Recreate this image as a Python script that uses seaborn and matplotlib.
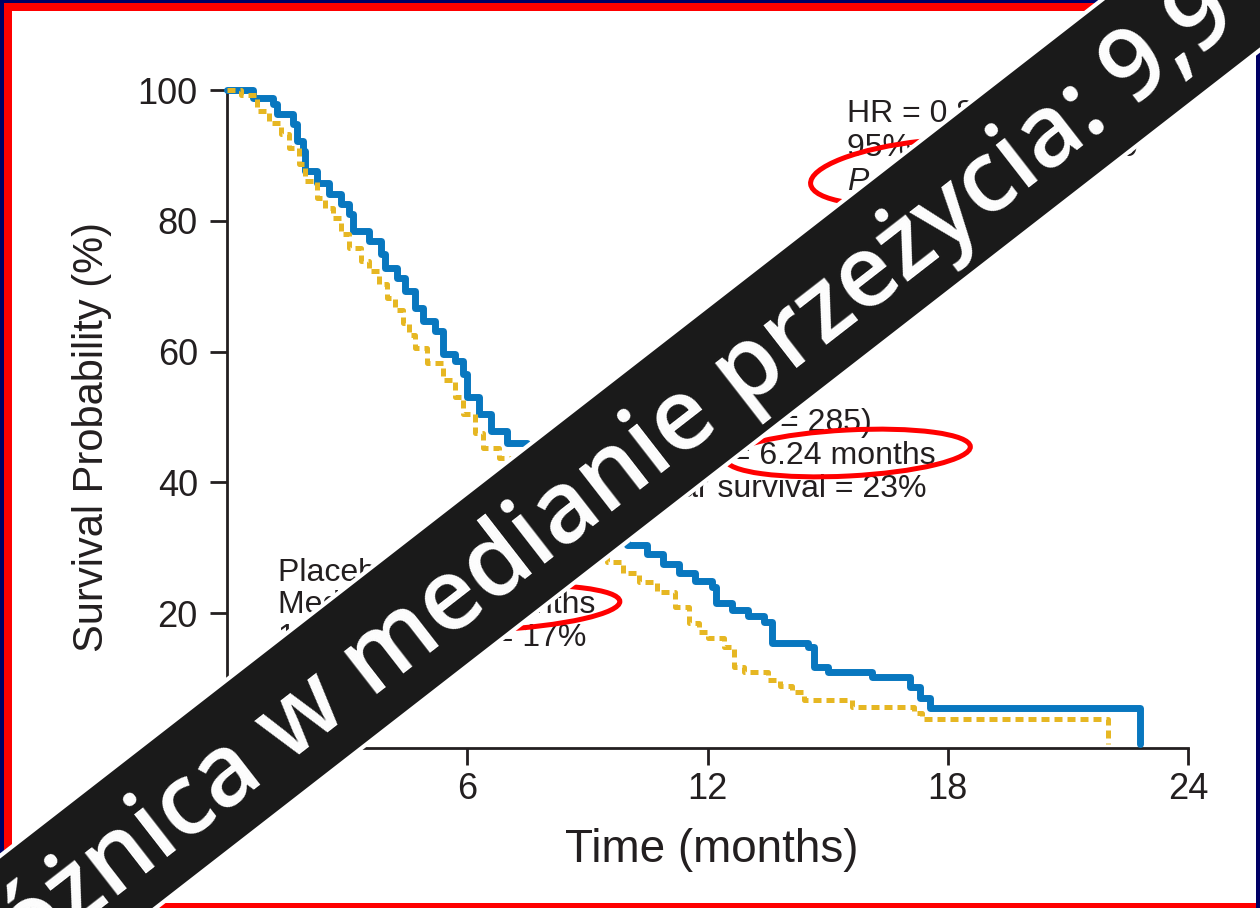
import numpy as np
import pandas as pd
import matplotlib
matplotlib.use("Agg")
import matplotlib.pyplot as plt
import seaborn as sns
from matplotlib.patches import Polygon, Ellipse, Rectangle
from matplotlib.transforms import Affine2D

# ---------------- data ----------------
erl_time = [0, 0.65, 1.15, 1.25, 1.65, 1.75, 1.9, 1.95, 2.25, 2.55,
            2.85, 3.05, 3.15, 3.55, 3.85, 3.95, 4.25, 4.45, 4.7, 4.9,
            5.2, 5.4, 5.7, 5.9, 6.0, 6.3, 6.6, 7.0, 7.5, 8.0,
            8.5, 9.0, 9.5, 10.0, 10.5, 10.9, 11.3, 11.7, 12.1, 12.2,
            12.6, 13.0, 13.4, 13.6, 14.5, 14.65, 15.0, 16.1, 17.05, 17.3,
            17.55, 22.8]
erl_surv = [100, 98.8, 97.8, 96.3, 94.8, 92.2, 90.7, 87.6, 85.8, 84.1,
            82.6, 81.1, 78.5, 76.9, 75.0, 72.8, 71.3, 69.3, 66.7, 64.7,
            63.2, 59.7, 58.6, 56.6, 53.0, 50.5, 47.9, 46.0, 43.0, 40.0,
            37.0, 34.0, 31.5, 30.4, 29.0, 27.6, 26.2, 25.0, 24.0, 21.5,
            20.5, 19.6, 18.6, 15.4, 14.8, 11.8, 11.0, 10.2, 8.7, 7.0,
            5.5, 0]
pla_time = [0, 0.35, 0.75, 1.05, 1.35, 1.55, 1.8, 1.95, 2.25, 2.45,
            2.65, 2.85, 3.05, 3.35, 3.55, 3.8, 4.0, 4.2, 4.4, 4.55,
            4.7, 5.0, 5.4, 5.7, 5.9, 6.2, 6.4, 6.8, 7.2, 7.7,
            8.2, 8.7, 9.2, 9.5, 9.9, 10.3, 10.75, 11.2, 11.55, 11.8,
            12.0, 12.4, 12.65, 12.9, 13.5, 13.8, 14.1, 14.4, 15.6, 17.15,
            17.35, 22.0]
pla_surv = [100, 99.3, 96.8, 95.0, 93.3, 91.1, 88.7, 86.1, 83.5, 82.0,
            80.5, 78.0, 75.9, 73.9, 72.4, 70.4, 68.2, 66.3, 64.3, 62.5,
            60.6, 58.2, 55.6, 53.0, 50.5, 47.5, 45.3, 43.7, 41.0, 38.0,
            35.0, 32.0, 29.5, 27.8, 26.2, 24.8, 23.2, 20.9, 18.5, 17.2,
            16.2, 14.8, 11.8, 11.0, 9.8, 8.8, 7.9, 6.7, 5.6, 4.7,
            3.8, 0]

x_ticks = [0, 6, 12, 18, 24]
y_ticks = [0, 20, 40, 60, 80, 100]

erl_lines = ["Erlotinib (n = 285)", "Median = 6.24 months", "1-year survival = 23%"]
pla_lines = ["Placebo (n = 284)", "Median = 5.91 months", "1-year survival = 17%"]
hr_lines = ["HR = 0.82", "95% CI, 0.69 to 0.99", " = .038"]
banner_text = "Różnica w medianie przeżycia: 9,9 dnia"

# ---------------- style ----------------
sns.set_style("ticks")
NARROW = ['Liberation Sans Narrow', 'Liberation Sans', 'DejaVu Sans']
SANS = ['Liberation Sans', 'DejaVu Sans']
plt.rcParams['font.family'] = NARROW

INK = '#231f20'
BLUE = '#0877bf'
YELLOW = '#e6b723'

W, H = 1260, 908
fig = plt.figure(figsize=(12.6, 9.08), dpi=100)
fig.patch.set_facecolor('white')
# pixel transform (image coordinates, y downward)
pix = Affine2D().scale(1 / 100, -1 / 100).translate(0, 9.08) + fig.dpi_scale_trans

ax = fig.add_axes([227 / W, 1 - 748 / H, (1188 - 227) / W, (748 - 90) / H])
ax.set_facecolor('white')

df_erl = pd.DataFrame({"time": erl_time, "surv": erl_surv})
df_pla = pd.DataFrame({"time": pla_time, "surv": pla_surv})

sns.lineplot(data=df_erl, x="time", y="surv", ax=ax, estimator=None, sort=False,
             drawstyle='steps-post', color=BLUE, lw=5.0, clip_on=False, zorder=3)
sns.lineplot(data=df_pla, x="time", y="surv", ax=ax, estimator=None, sort=False,
             drawstyle='steps-post', color=YELLOW, lw=3.6, linestyle=(0, (1.6, 1.0)),
             clip_on=False, zorder=4)

ax.set_xlim(0, 24)
ax.set_ylim(-0.61, 100)
ax.set_xticks(x_ticks)
ax.set_yticks(y_ticks)
ax.set_xticklabels([str(v) for v in x_ticks])
ax.set_yticklabels([str(v) for v in y_ticks])
for s in ['top', 'right']:
    ax.spines[s].set_visible(False)
for s in ['left', 'bottom']:
    ax.spines[s].set_linewidth(2.0)
    ax.spines[s].set_color(INK)
ax.tick_params(axis='both', width=2.0, length=12, color=INK, labelcolor=INK, labelsize=26)
ax.tick_params(axis='y', pad=9)
ax.tick_params(axis='x', pad=5)

ax.set_xlabel("Time (months)", fontsize=33, color=INK)
ax.set_ylabel("Survival Probability (%)", fontsize=30, color=INK)
ax.xaxis.set_label_coords(0.5045, -0.1216)
ax.yaxis.set_label_coords(-0.1197, 0.4726)

# ---------------- annotations ----------------
afs = 23
for txt, yy in zip(erl_lines, [49.08, 44.04, 39.0]):
    ax.text(9.77, yy, txt, fontsize=afs, family=SANS, color=INK, va='center', ha='left', zorder=5)
for txt, yy in zip(pla_lines, [26.15, 21.26, 16.21]):
    ax.text(1.27, yy, txt, fontsize=afs, family=SANS, color=INK, va='center', ha='left', zorder=5)
ax.text(15.48, 96.4, hr_lines[0], fontsize=afs, family=SANS, color=INK, va='center', ha='left')
ax.text(15.48, 91.1, hr_lines[1], fontsize=afs, family=SANS, color=INK, va='center', ha='left')
ax.text(15.48, 85.9, "P", fontsize=afs, family=SANS, style='italic', color=INK, va='center', ha='left')
ax.annotate(hr_lines[2], xy=(15.48, 85.9), xytext=(15.3, 0), textcoords='offset points',
            fontsize=afs, family=SANS, color=INK, va='center', ha='left')

# red hand-drawn style ellipses
for (cx, cy, w, h, ang) in [(848, 453, 245, 46, -3), (492, 608, 256, 44, -3), (925, 172, 230, 62, -6)]:
    e = Ellipse((cx, cy), w, h, angle=ang, transform=pix, fill=False,
                edgecolor='#ff0000', lw=3.6, zorder=3)
    fig.add_artist(e)

# ---------------- slide frame ----------------
frame = [((0, 0), 4, 908, '#000066'), ((0, 0), 1260, 3, '#000066'),
         ((1256, 0), 4, 908, '#000066'),
         ((4, 3), 8, 905, '#ff0000'), ((4, 3), 1252, 8, '#ff0000'),
         ((4, 903), 1252, 5, '#ff0000')]
for (xy, w, h, c) in frame:
    fig.add_artist(Rectangle(xy, w, h, transform=pix, facecolor=c, edgecolor='none', zorder=5))

# ---------------- diagonal banner ----------------
slope = 0.777
up0, lo0 = 856.0, 1029.0
xs = [-200, 1500]
band = Polygon([(xs[0], up0 - slope * xs[0]), (xs[1], up0 - slope * xs[1]),
                (xs[1], lo0 - slope * xs[1]), (xs[0], lo0 - slope * xs[0])],
               closed=True, transform=pix, facecolor='#1a1a1a', edgecolor='white',
               lw=3, zorder=10)
fig.add_artist(band)
ang = np.degrees(np.arctan(slope))
fig.text(-22.2, 1004.1, banner_text, transform=pix, rotation=ang, rotation_mode='anchor',
         ha='left', va='baseline', fontsize=71, color='white',
         family=['Open Sans', 'DejaVu Sans'], fontweight='semibold', zorder=11)

fig.savefig("out.png", dpi=100, facecolor='white')
